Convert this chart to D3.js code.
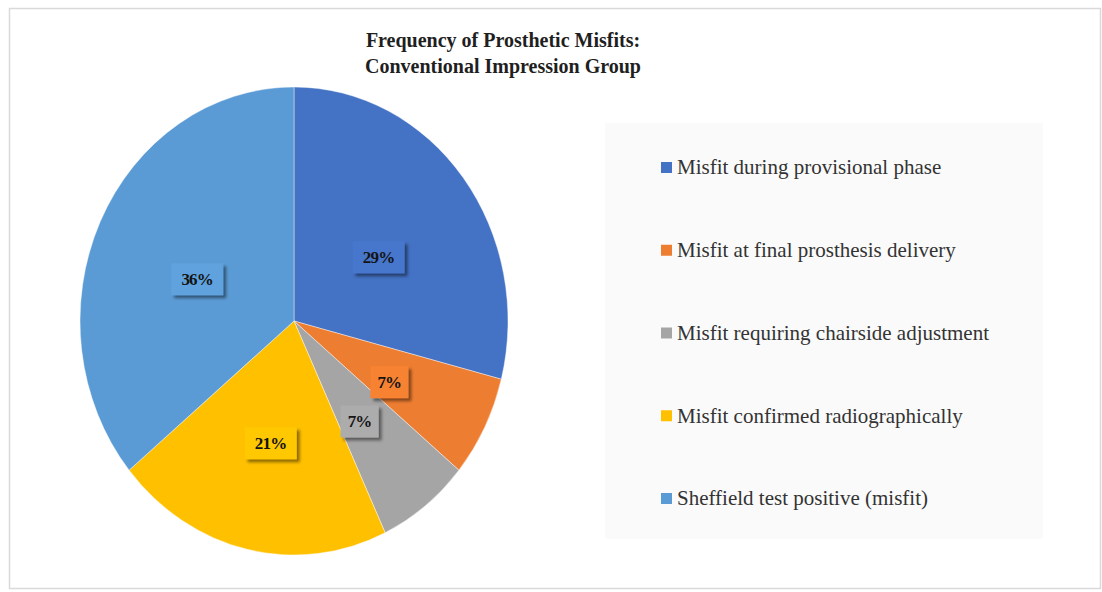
<!DOCTYPE html>
<html>
<head>
<meta charset="utf-8">
<script src="https://cdn.jsdelivr.net/npm/d3@7"></script>
<style>
  body { margin: 0; background: #fff; }
  text { font-family: "Liberation Serif", "DejaVu Serif", serif; }
</style>
</head>
<body>
<script>
// chart data
const categories = [
  "Misfit during provisional phase",
  "Misfit at final prosthesis delivery",
  "Misfit requiring chairside adjustment",
  "Misfit confirmed radiographically",
  "Sheffield test positive (misfit)"
];
const percents = [29, 7, 7, 21, 36];
const colors = ["#4472C4", "#ED7D31", "#A5A5A5", "#FFC000", "#5B9BD5"];
const titleLines = ["Frequency of Prosthetic Misfits:", "Conventional Impression Group"];

const width = 1102, height = 592;

const svg = d3.select("body").append("svg")
    .attr("width", width)
    .attr("height", height);

// drop shadow for the data labels
const defs = svg.append("defs");
const f = defs.append("filter").attr("id", "shadow")
    .attr("x", "-30%").attr("y", "-30%").attr("width", "160%").attr("height", "160%");
f.append("feDropShadow")
    .attr("dx", 3).attr("dy", 3).attr("stdDeviation", 1.8)
    .attr("flood-color", "#000").attr("flood-opacity", 0.45);

// outer chart border
svg.append("rect")
    .attr("x", 9.5).attr("y", 8.5)
    .attr("width", 1091).attr("height", 580)
    .attr("fill", "#fff")
    .attr("stroke", "#d9d9d9")
    .attr("stroke-width", 1.5);

// title
svg.append("text")
    .attr("x", 503).attr("y", 47)
    .attr("text-anchor", "middle")
    .attr("font-size", 20)
    .attr("font-weight", "bold")
    .attr("fill", "#1f1f1f")
    .selectAll("tspan")
    .data(titleLines)
    .enter().append("tspan")
    .attr("x", 503)
    .attr("dy", (d, i) => i === 0 ? 0 : 26)
    .text(d => d);

// pie (picture is slightly stretched vertically)
const cx = 294, cy = 321, rx = 214, ry = 234;
const r = rx, sy = ry / rx;

const pie = d3.pie().sort(null).value(d => d);
const arcs = pie(percents);
const arc = d3.arc().innerRadius(0).outerRadius(r);
const labelArc = d3.arc().innerRadius(r * 0.5).outerRadius(r * 0.5);

const g = svg.append("g")
    .attr("transform", `translate(${cx},${cy}) scale(1,${sy})`);

g.selectAll("path")
    .data(arcs)
    .enter().append("path")
    .attr("d", arc)
    .attr("fill", (d, i) => colors[i])
    .attr("stroke", "#fff")
    .attr("stroke-width", 0.4);

// data labels
const lbl = svg.append("g").attr("transform", `translate(${cx},${cy + 8})`)
    .selectAll("g")
    .data(arcs)
    .enter().append("g")
    .attr("transform", d => {
        const c = labelArc.centroid(d);
        return `translate(${c[0]},${c[1] * sy})`;
    });

lbl.append("rect")
    .attr("x", d => d.data >= 10 ? -26 : -19)
    .attr("y", -16)
    .attr("width", d => d.data >= 10 ? 52 : 38)
    .attr("height", 32)
    .attr("fill", (d, i) => d3.color(colors[i]).brighter(0.12))
    .attr("filter", "url(#shadow)");

lbl.append("text")
    .attr("text-anchor", "middle")
    .attr("dy", "0.35em")
    .attr("font-size", 17)
    .attr("font-weight", "bold")
    .attr("letter-spacing", -0.8)
    .attr("fill", "#141414")
    .text(d => d.data + "%");

// legend
svg.append("rect")
    .attr("x", 605).attr("y", 123)
    .attr("width", 438).attr("height", 416)
    .attr("fill", "#fafafa");

const ly = d3.scalePoint()
    .domain(categories)
    .range([166, 497]);

const item = svg.append("g").selectAll("g")
    .data(categories)
    .enter().append("g")
    .attr("transform", d => `translate(661,${ly(d)})`);

item.append("rect")
    .attr("x", 0).attr("y", -4)
    .attr("width", 11).attr("height", 11)
    .attr("fill", (d, i) => colors[i]);

item.append("text")
    .attr("x", 16)
    .attr("y", 1)
    .attr("dy", "0.35em")
    .attr("font-size", 21)
    .attr("fill", "#333")
    .text(d => d);
</script>
</body>
</html>
